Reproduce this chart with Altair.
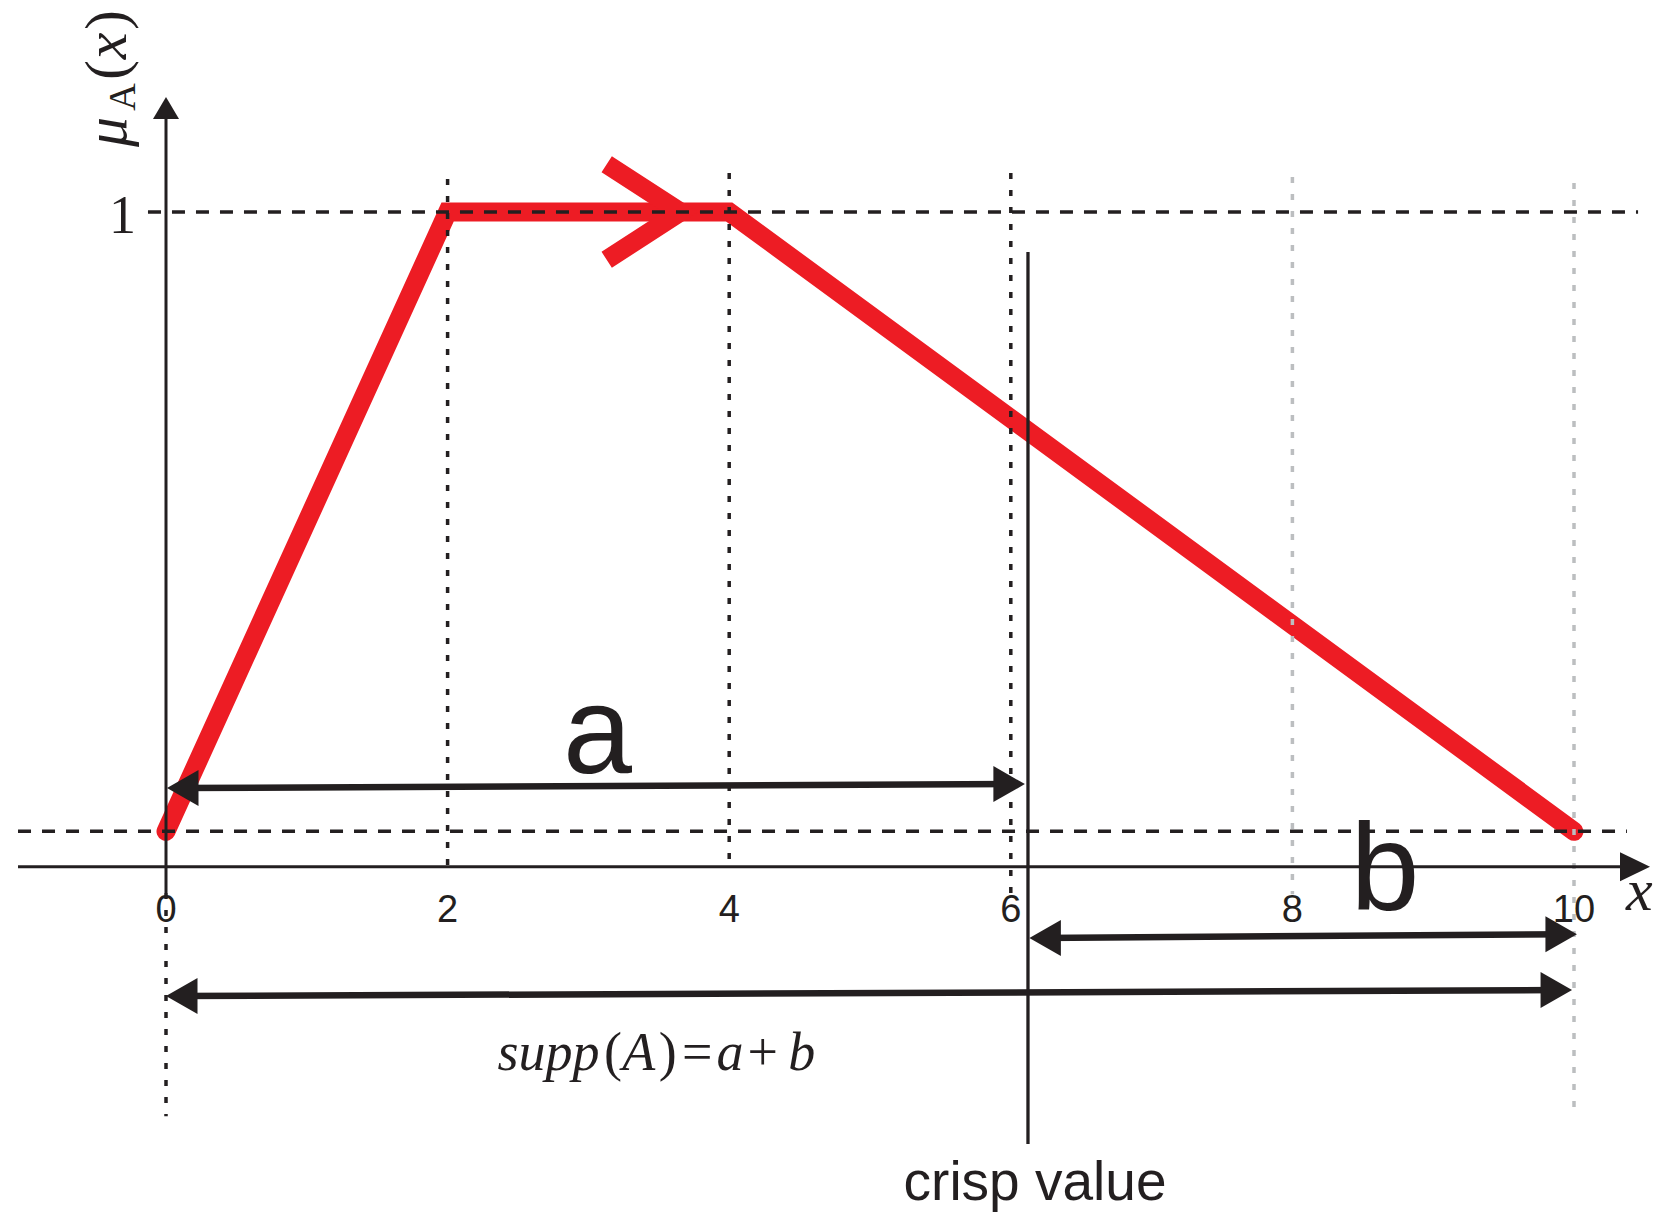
import altair as alt
import pandas as pd

# ---------------- values ----------------
# membership function (trapezoid) of the fuzzy set A
mf_x = [0, 2, 4, 10]
mf_y = [0.054, 1.0, 1.0, 0.054]
# chevron on the plateau
chev_x = [3.13, 3.654, 3.13]
chev_y = [1.073, 1.0, 0.927]

alpha_level = 0.054
crisp_value = 6.122

tick_values = [0, 2, 4, 6, 8, 10]
tick_labels = ["0", "2", "4", "6", "8", "10"]

# vertical dotted guides
guide_x = [0, 2, 4, 6, 8, 10]
guide_top = [-0.040, 1.0505, 1.0596, 1.0596, 1.0535, 1.0443]
guide_bottom = [-0.381, 0.0, 0.0, -0.042, -0.042, -0.384]
guide_color = ["#231f20", "#231f20", "#231f20", "#231f20", "#bcbec0", "#bcbec0"]

# horizontal dashed guides
dash_y = [1.0, alpha_level]
dash_x0 = [-0.128, -1.051]
dash_x1 = [10.455, 10.376]

# dimension arrows (a, b, supp)
arrow_names = ["a", "b", "supp"]
arrow_x0 = [0.007, 6.132, 0.0]
arrow_y0 = [0.1202, -0.109, -0.1976]
arrow_x1 = [6.10, 10.021, 9.986]
arrow_y1 = [0.1262, -0.103, -0.1884]

# axes
xaxis_x = [-1.051, 10.40]
xaxis_tip = 10.54
yaxis_y = [-0.040, 1.15]
yaxis_tip = 1.1757

# formula text pieces supp(A) = a + b
supp_text = ["supp", "(", "A", ")", "=", "a", "+", "b"]
supp_x = [2.355, 3.11, 3.24, 3.50, 3.665, 3.91, 4.13, 4.42]
supp_italic = [True, False, True, False, False, True, False, True]
supp_baseline = -0.3105

BLACK = "#231f20"
RED = "#ed1c24"

# ---------------- scales ----------------
XMIN, XMAX = -1.12216, 10.6889
YMIN, YMAX = -0.54422, 1.31159
xs = alt.Scale(domain=[XMIN, XMAX], nice=False, zero=False)
ys = alt.Scale(domain=[YMIN, YMAX], nice=False, zero=False)


def X(f="x"):
    return alt.X(f"{f}:Q", scale=xs, axis=None)


def Y(f="y"):
    return alt.Y(f"{f}:Q", scale=ys, axis=None)


# ---------------- layers ----------------
mf_df = pd.DataFrame({"x": mf_x, "y": mf_y, "o": range(len(mf_x))})
red_line = alt.Chart(mf_df).mark_line(
    color=RED, strokeWidth=19, strokeCap="round", strokeJoin="miter"
).encode(x=X(), y=Y(), order="o:Q")

chev_df = pd.DataFrame({"x": chev_x, "y": chev_y, "o": range(len(chev_x))})
chevron = alt.Chart(chev_df).mark_line(
    color=RED, strokeWidth=19, strokeCap="butt", strokeJoin="miter"
).encode(x=X(), y=Y(), order="o:Q")

guides_df = pd.DataFrame({"x": guide_x, "y": guide_top, "y2": guide_bottom, "c": guide_color})
dotted = alt.Chart(guides_df).mark_rule(strokeWidth=3.5, strokeDash=[6, 11]).encode(
    x=X(), y=Y(), y2="y2:Q", color=alt.Color("c:N", scale=None)
)

dash_df = pd.DataFrame({"y": dash_y, "x": dash_x0, "x2": dash_x1})
dashed = alt.Chart(dash_df).mark_rule(strokeWidth=3.5, strokeDash=[13, 11], color=BLACK).encode(
    x=X(), x2="x2:Q", y=Y()
)

xaxis_df = pd.DataFrame({"x": [xaxis_x[0]], "x2": [xaxis_x[1]], "y": [0.0]})
xaxis = alt.Chart(xaxis_df).mark_rule(strokeWidth=3, color=BLACK).encode(x=X(), x2="x2:Q", y=Y())
yaxis_df = pd.DataFrame({"x": [0.0], "y": [yaxis_y[0]], "y2": [yaxis_y[1]]})
yaxis = alt.Chart(yaxis_df).mark_rule(strokeWidth=3, color=BLACK).encode(x=X(), y=Y(), y2="y2:Q")

crisp_df = pd.DataFrame({"x": [crisp_value], "y": [0.939], "y2": [-0.4236]})
crisp = alt.Chart(crisp_df).mark_rule(strokeWidth=3.3, color=BLACK).encode(x=X(), y=Y(), y2="y2:Q")

# arrow shafts
inset = 0.075
shaft_df = pd.DataFrame({
    "x": [a + inset for a in arrow_x0],
    "x2": [b - inset for b in arrow_x1],
    "y": arrow_y0,
    "y2": arrow_y1,
})
shafts = alt.Chart(shaft_df).mark_rule(strokeWidth=6.5, color=BLACK).encode(
    x=X(), x2="x2:Q", y=Y(), y2="y2:Q"
)

RIGHT = "M0,0L-1.75,-1L-1.75,1Z"
LEFT = "M0,0L1.75,-1L1.75,1Z"
UP = "M0,0L-1,1.7L1,1.7Z"
AXRIGHT = "M0,0L-2.07,-1L-2.07,1Z"
heads_rows = []
for x0, y0, x1, y1 in zip(arrow_x0, arrow_y0, arrow_x1, arrow_y1):
    heads_rows.append({"x": x0, "y": y0, "shape": LEFT, "size": 1296})
    heads_rows.append({"x": x1, "y": y1, "shape": RIGHT, "size": 1296})
heads_rows.append({"x": xaxis_tip, "y": 0.0, "shape": AXRIGHT, "size": 841})
heads_rows.append({"x": 0.0, "y": yaxis_tip, "shape": UP, "size": 676})
heads_df = pd.DataFrame(heads_rows)
heads = alt.Chart(heads_df).mark_point(filled=True, opacity=1, strokeWidth=0, color=BLACK).encode(
    x=X(), y=Y(),
    shape=alt.Shape("shape:N", scale=None),
    size=alt.Size("size:Q", scale=None),
)

# tick labels
ticks_df = pd.DataFrame({"x": tick_values, "y": [-0.0844] * len(tick_values), "t": tick_labels})
ticks = alt.Chart(ticks_df).mark_text(
    font="Liberation Sans", fontSize=38, color=BLACK, align="center", baseline="alphabetic"
).encode(x=X(), y=Y(), text="t:N")

one_df = pd.DataFrame({"x": [-0.309], "y": [0.968], "t": ["1"]})
one = alt.Chart(one_df).mark_text(
    font="Liberation Serif", fontSize=54, color=BLACK, align="center", baseline="alphabetic"
).encode(x=X(), y=Y(), text="t:N")

# big labels a and b
ab_df = pd.DataFrame({"x": [3.064, 8.658], "y": [0.1436, -0.066], "t": ["a", "b"]})
ab = alt.Chart(ab_df).mark_text(
    font="Liberation Sans", fontSize=124, color=BLACK, align="center", baseline="alphabetic"
).encode(x=X(), y=Y(), text="t:N")

crisp_lbl_df = pd.DataFrame({"x": [6.172], "y": [-0.509], "t": ["crisp value"]})
crisp_lbl = alt.Chart(crisp_lbl_df).mark_text(
    font="Liberation Sans", fontSize=55, color=BLACK, align="center", baseline="alphabetic"
).encode(x=X(), y=Y(), text="t:N")

# formula
supp_df = pd.DataFrame({"x": supp_x, "y": [supp_baseline] * len(supp_x), "t": supp_text, "it": supp_italic})
supp_it = alt.Chart(supp_df[supp_df["it"]]).mark_text(
    font="Liberation Serif", fontSize=54, fontStyle="italic", color=BLACK, align="left", baseline="alphabetic"
).encode(x=X(), y=Y(), text="t:N")
supp_up = alt.Chart(supp_df[~supp_df["it"]]).mark_text(
    font="Liberation Serif", fontSize=54, color=BLACK, align="left", baseline="alphabetic"
).encode(x=X(), y=Y(), text="t:N")

# y-axis title  mu_A(x), rotated
ylab_text = ["μ", "(", "x", ")"]
ylab_y = [1.1222, 1.2169, 1.2536, 1.2932]
ylab_italic = [True, False, True, False]
ylab_df = pd.DataFrame({"x": [-0.284] * 4, "y": ylab_y, "t": ylab_text, "it": ylab_italic})
ylab_it = alt.Chart(ylab_df[ylab_df["it"]]).mark_text(
    font="Liberation Serif", fontSize=60, fontStyle="italic", color=BLACK, angle=270,
    align="center", baseline="alphabetic"
).encode(x=X(), y=Y(), text="t:N")
ylab_up = alt.Chart(ylab_df[~ylab_df["it"]]).mark_text(
    font="Liberation Serif", fontSize=60, color=BLACK, angle=270,
    align="center", baseline="alphabetic"
).encode(x=X(), y=Y(), text="t:N")
ysub_df = pd.DataFrame({"x": [-0.220], "y": [1.1757], "t": ["A"]})
ysub = alt.Chart(ysub_df).mark_text(
    font="Liberation Serif", fontSize=38, color=BLACK, angle=270,
    align="center", baseline="alphabetic"
).encode(x=X(), y=Y(), text="t:N")

# x-axis title
xlab_df = pd.DataFrame({"x": [10.37], "y": [-0.066], "t": ["x"]})
xlab = alt.Chart(xlab_df).mark_text(
    font="Liberation Serif", fontSize=60, fontStyle="italic", color=BLACK,
    align="left", baseline="alphabetic"
).encode(x=X(), y=Y(), text="t:N")

chart = alt.layer(
    red_line, chevron, dotted, dashed, xaxis, yaxis, crisp, shafts, heads,
    ticks, one, ab, crisp_lbl, supp_it, supp_up, ylab_it, ylab_up, ysub, xlab,
).properties(
    width=1663, height=1215, padding=0, autosize=alt.AutoSizeParams(type="none"),
    background="white",
).configure_view(stroke=None)

chart.save("out.html", embed_options={"renderer": "svg", "actions": False})
